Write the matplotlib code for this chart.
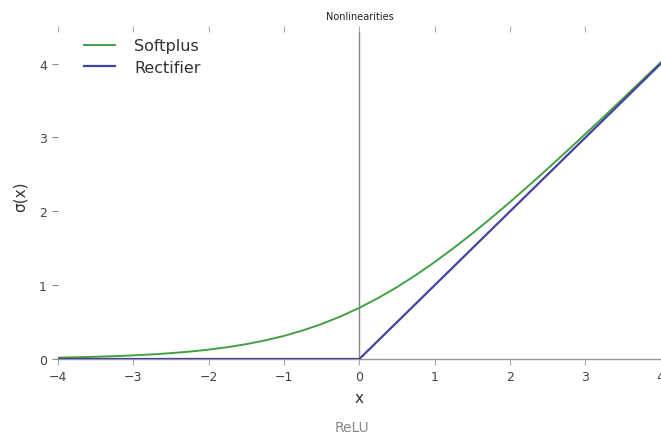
import matplotlib
matplotlib.use("Agg")
import matplotlib.pyplot as plt

x_vals = [-4.0, -3.75, -3.5, -3.25, -3.0, -2.75, -2.5, -2.25, -2.0, -1.75,
          -1.5, -1.25, -1.0, -0.75, -0.5, -0.25, 0.0, 0.25, 0.5, 0.75, 1.0,
          1.25, 1.5, 1.75, 2.0, 2.25, 2.5, 2.75, 3.0, 3.25, 3.5, 3.75, 4.0]
softplus_vals = [0.018, 0.023, 0.030, 0.038, 0.049, 0.062, 0.079, 0.100,
                 0.127, 0.160, 0.201, 0.252, 0.313, 0.387, 0.474, 0.576,
                 0.693, 0.826, 0.974, 1.137, 1.313, 1.502, 1.701, 1.910,
                 2.127, 2.350, 2.579, 2.812, 3.049, 3.288, 3.530, 3.773, 4.018]
relu_vals = [0.0, 0.0, 0.0, 0.0, 0.0, 0.0, 0.0, 0.0, 0.0, 0.0,
             0.0, 0.0, 0.0, 0.0, 0.0, 0.0, 0.0, 0.25, 0.5, 0.75, 1.0,
             1.25, 1.5, 1.75, 2.0, 2.25, 2.5, 2.75, 3.0, 3.25, 3.5, 3.75, 4.0]
xticks = [-4, -3, -2, -1, 0, 1, 2, 3, 4]
yticks = [0, 1, 2, 3, 4]
title = "Nonlinearities"
caption = "ReLU"

fig = plt.figure(figsize=(6.61, 4.39), dpi=100)
ax = fig.add_axes([0.0877, 0.18, 0.912, 0.745])

ax.axvline(0, color="#888888", lw=1.0, zorder=1)
ax.plot(x_vals, softplus_vals, color="#45a045", lw=1.4, label="Softplus", zorder=3)
ax.plot(x_vals, relu_vals, color="#4444a0", lw=1.6, label="Rectifier", zorder=4)

ax.set_xlim(-4, 4)
ax.set_ylim(0, 4.43)
ax.set_xticks(xticks)
ax.set_xticklabels([str(t).replace("-", "\u2212") for t in xticks])
ax.set_yticks(yticks)
for s in ["left", "top", "right"]:
    ax.spines[s].set_visible(False)
ax.spines["bottom"].set_color("#999999")
ax.spines["bottom"].set_linewidth(1.0)

ax.tick_params(axis="both", which="both", labelsize=9, colors="#444444",
               length=4, width=0.8, direction="out", pad=4)
ax.tick_params(axis="x", top=True, bottom=True, labeltop=False)
ax.tick_params(axis="y", left=True, right=True, labelright=False)
ax.tick_params(axis="x", which="both", color="#aaaaaa")
ax.tick_params(axis="y", which="both", color="#888888")

ax.set_xlabel("x", fontsize=11, color="#333333", labelpad=5)
ax.set_ylabel("\u03c3(x)", fontsize=11, color="#333333", labelpad=8)
ax.set_title(title, fontsize=7, color="#222222", pad=9)

leg = ax.legend(loc="upper left", bbox_to_anchor=(0.02, 1.025), frameon=False,
                fontsize=11.5, handlelength=1.9, handletextpad=1.2,
                labelspacing=0.4)
for t in leg.get_texts():
    t.set_color("#333333")

fig.text(0.533, 0.015, caption, fontsize=10, color="#888888", ha="center")

fig.savefig("out.png", dpi=100)
